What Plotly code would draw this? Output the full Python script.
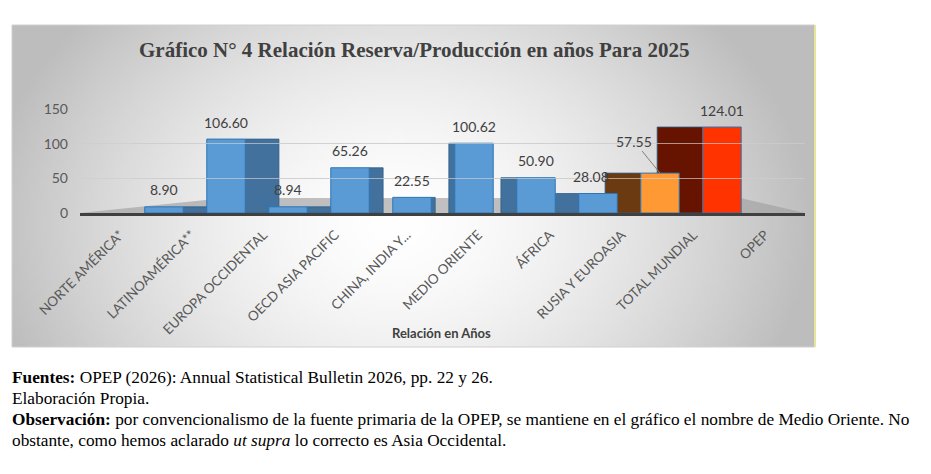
import base64
import struct
import zlib

import numpy as np
import plotly.graph_objects as go

# ─── Datos ───────────────────────────────────────────────────────────────────

categorias = [
    "NORTE AMÉRICA*",
    "LATINOAMÉRICA**",
    "EUROPA OCCIDENTAL",
    "OECD ASIA PACIFIC",
    "CHINA, INDIA Y...",
    "MEDIO ORIENTE",
    "ÁFRICA",
    "RUSIA Y EUROASIA",
    "TOTAL MUNDIAL",
    "OPEP",
]
relacion_anios = [8.90, 106.60, 8.94, 65.26, 22.55, 100.62, 50.90, 28.08, 57.55, 124.01]
ticks_y = [0, 50, 100, 150]

titulo = "Gráfico N° 4 Relación Reserva/Producción en años Para 2025"
titulo_eje = "Relación en Años"
notas = [
    "<b>Fuentes:</b> OPEP (2026): Annual Statistical Bulletin 2026, pp. 22 y 26.",
    "Elaboración Propia.",
    "<b>Observación:</b> por convencionalismo de la fuente primaria de la OPEP, "
    "se mantiene en el gráfico el nombre de Medio Oriente. No",
    "obstante, como hemos aclarado <i>ut supra</i> lo correcto es Asia Occidental.",
]

# ─── Estilo ──────────────────────────────────────────────────────────────────

W, H = 931, 474
MARGEN_BODY = 8  # el <body> de la página desplaza la figura 8 px
COLOR_FRENTE = ["#5B9BD5"] * 8 + ["#FF9933", "#FF3300"]
COLOR_LADO = ["#41719C"] * 8 + ["#6B3A10", "#661400"]
ANCHO = 0.62
FUENTE_ETIQ = dict(family="Lato", size=14, color="#404040")
XSHIFT_ETIQ = {"RUSIA Y EUROASIA": -7}


def px(x):
    return (x - MARGEN_BODY) / W


def py(y):
    return 1 - (y - MARGEN_BODY) / H


def _fondo_png(w=240, h=100):
    """Degradado gris -> blanco (estilo Excel) como PNG en base64."""
    xx, yy = np.meshgrid(np.linspace(0, 1, w), np.linspace(0, 1, h))
    r = np.sqrt(((xx - 0.48) / 0.52) ** 2 + ((yy - 0.62) / 1.0) ** 2)
    img = (255 - 66 * np.clip(r, 0, 1) ** 1.6).astype(np.uint8)
    raw = b"".join(b"\x00" + fila.tobytes() for fila in img)

    def chunk(tag, data):
        return (struct.pack(">I", len(data)) + tag + data
                + struct.pack(">I", zlib.crc32(tag + data) & 0xFFFFFFFF))

    png = (b"\x89PNG\r\n\x1a\n"
           + chunk(b"IHDR", struct.pack(">IIBBBBB", w, h, 8, 0, 0, 0, 0))
           + chunk(b"IDAT", zlib.compress(raw))
           + chunk(b"IEND", b""))
    return "data:image/png;base64," + base64.b64encode(png).decode()


# perspectiva: cara lateral a la derecha en las barras de la izquierda, y al revés
prof = [0.16 * (4.4 - i) for i in range(len(categorias))]
ancho_lado = [abs(d) for d in prof]
offset_lado = [ANCHO / 2 if d > 0 else -ANCHO / 2 - abs(d) for d in prof]

fig = go.Figure()

# caras laterales
fig.add_trace(go.Bar(
    x=categorias, y=relacion_anios,
    width=ancho_lado, offset=offset_lado,
    marker=dict(color=COLOR_LADO, line=dict(color="#2F5F8A", width=0.8)),
    hoverinfo="skip", showlegend=False,
))

# caras frontales
fig.add_trace(go.Bar(
    x=categorias, y=relacion_anios,
    width=ANCHO, offset=-ANCHO / 2,
    marker=dict(color=COLOR_FRENTE, line=dict(color="#2E75B6", width=1)),
    hovertemplate="%{x}<br>%{y:.2f} años<extra></extra>",
    showlegend=False,
))

# eje de etiquetas (más ancho que el de las barras, como en el 3D de Excel)
fig.add_trace(go.Scatter(
    x=categorias, y=[0] * len(categorias), xaxis="x2", yaxis="y",
    mode="markers", marker=dict(opacity=0), hoverinfo="skip", showlegend=False,
))

# etiquetas de datos
for c, v in zip(categorias, relacion_anios):
    if c == "TOTAL MUNDIAL":
        # etiqueta desplazada con línea guía
        fig.add_annotation(
            x=c, y=v, xref="x", yref="y", text=f"{v:.2f}",
            showarrow=True, arrowhead=0, arrowwidth=1, arrowcolor="#808080",
            ax=-26, ay=-32, font=FUENTE_ETIQ,
        )
    else:
        fig.add_annotation(
            x=c, y=v, xref="x", yref="y", text=f"{v:.2f}", showarrow=False,
            yanchor="middle", yshift=17, xshift=XSHIFT_ETIQ.get(c, 0),
            font=FUENTE_ETIQ,
        )

# título, eje y notas
fig.add_annotation(
    x=px(414), y=py(50), xref="paper", yref="paper", showarrow=False,
    text=f"<b>{titulo}</b>", xanchor="center", yanchor="middle",
    font=dict(family="Liberation Serif", size=21, color="#404040"),
)
fig.add_annotation(
    x=px(441), y=py(333), xref="paper", yref="paper", showarrow=False,
    text=f"<b>{titulo_eje}</b>", xanchor="center", yanchor="middle",
    font=dict(family="Lato", size=13, color="#404040"),
)
for k, linea in enumerate(notas):
    fig.add_annotation(
        x=px(10), y=py(377 + 21 * k), xref="paper", yref="paper", showarrow=False,
        text=linea, xanchor="left", yanchor="middle",
        font=dict(family="Liberation Serif", size=17.3, color="#000000"),
    )

# marco, piso gris
fig.add_shape(type="rect", xref="paper", yref="paper",
              x0=px(12), x1=px(815), y0=py(347), y1=py(25),
              line=dict(color="#D0D0D0", width=1), layer="below")
fig.add_shape(type="line", xref="paper", yref="paper",
              x0=px(815), x1=px(815), y0=py(347), y1=py(25),
              line=dict(color="#E6E69A", width=2))
fig.add_shape(type="path", xref="paper", yref="paper", layer="below",
              path=(f"M {px(80)},{py(213)} L {px(225)},{py(198)} "
                    f"L {px(740)},{py(198)} L {px(805)},{py(213)} Z"),
              fillcolor="rgba(160,160,160,0.65)", line=dict(width=0))

fig.add_layout_image(
    source=_fondo_png(), xref="paper", yref="paper",
    x=px(12), y=py(25), sizex=px(815) - px(12), sizey=(347 - 25) / H,
    sizing="stretch", layer="below",
)

fig.update_layout(
    width=W, height=H,
    margin=dict(l=0, r=0, t=0, b=0, autoexpand=False),
    barmode="overlay",
    paper_bgcolor="white",
    plot_bgcolor="rgba(0,0,0,0)",
    font=dict(family="Lato", color="#595959"),
    xaxis=dict(domain=[px(133), px(753)], anchor="y", showticklabels=False,
               automargin=False,
               showgrid=False, zeroline=False, showline=False, fixedrange=True),
    xaxis2=dict(domain=[px(80), px(805)], anchor="y", type="category",
                tickangle=-45, ticklabelstandoff=6, automargin=False,
                tickfont=dict(family="Lato", size=13.5, color="#595959"),
                showgrid=False, zeroline=False,
                showline=True, linecolor="#404040", linewidth=2.5),
    yaxis=dict(domain=[py(213), py(109)], range=[0, 150], tickvals=ticks_y,
               anchor="free", position=px(68), automargin=False,
               tickfont=dict(family="Lato", size=14, color="#595959"),
               showgrid=True, gridcolor="rgba(205,205,205,0.7)", gridwidth=1,
               zeroline=False, showline=False),
)

fig.write_html("out.html")
